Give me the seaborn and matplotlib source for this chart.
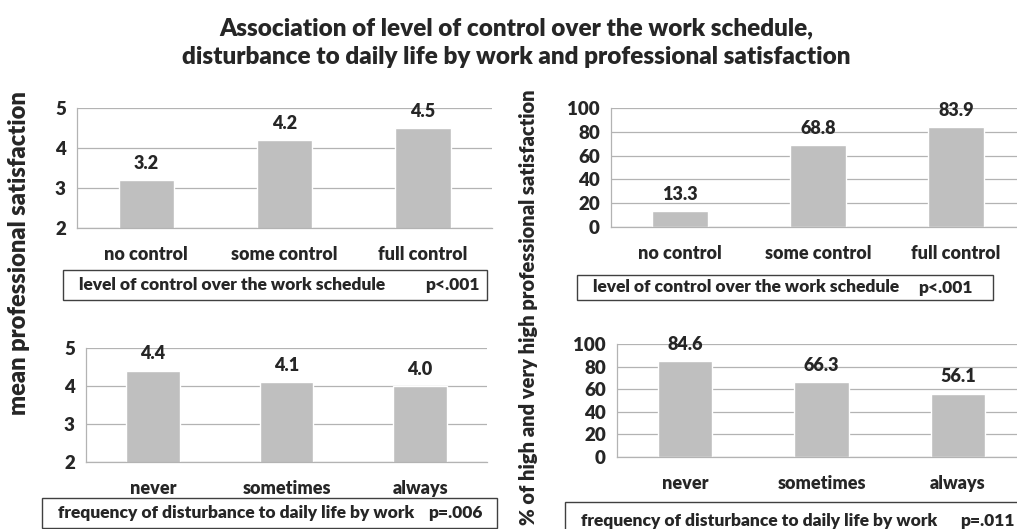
import pandas as pd
import seaborn as sns
import matplotlib.pyplot as plt
from matplotlib.patches import Rectangle

# data
control_cats = ["no control", "some control", "full control"]
control_mean = [3.2, 4.2, 4.5]
control_pct = [13.3, 68.8, 83.9]

disturb_cats = ["never", "sometimes", "always"]
disturb_mean = [4.4, 4.1, 4.0]
disturb_pct = [84.6, 66.3, 56.1]

box_control = "level of control over the work schedule"
box_disturb = "frequency of disturbance to daily life by work"
p_vals = ["p<.001", "p<.001", "p=.006", "p=.011"]

sns.set_style("white")
plt.rcParams["font.family"] = ["Lato", "DejaVu Sans"]
WT = "heavy"
plt.rcParams["font.weight"] = WT

W, H = 1017, 529
fig = plt.figure(figsize=(W / 100, H / 100), dpi=100)

bar_col = "#bfbfbf"
grid_col = "#b3b3b3"


def fx(px):
    return px / W


def fy(py):
    return 1 - py / H


def panel(rect, cats, vals, ylim, yticks):
    l, t, r, b = rect
    ax = fig.add_axes([fx(l), fy(b), fx(r - l), fy(t) - fy(b)])
    df = pd.DataFrame({"cat": cats, "val": vals})
    sns.barplot(data=df, x="cat", y="val", color=bar_col, width=0.4,
                saturation=1, ax=ax)
    ax.set_ylim(*ylim)
    ax.set_xlim(-0.5, 2.5)
    ax.set_yticks(yticks, [str(v) for v in yticks], fontweight=WT)
    ax.set_xticks(range(len(cats)), cats, fontweight=WT)
    ax.yaxis.grid(True, color=grid_col, lw=0.9)
    ax.set_axisbelow(True)
    for s in ["top", "right"]:
        ax.spines[s].set_visible(False)
    for s in ["left", "bottom"]:
        ax.spines[s].set_color(grid_col)
        ax.spines[s].set_linewidth(0.9)
    ax.set_xlabel("")
    ax.set_ylabel("")
    ax.tick_params(axis="y", length=5, color=grid_col, labelsize=13.5, pad=3)
    ax.tick_params(axis="x", which="major", length=0, labelsize=13, pad=13)
    ax.set_xticks([-0.5, 0.5, 1.5, 2.5], minor=True)
    ax.tick_params(axis="x", which="minor", length=6, color=grid_col)
    ax.bar_label(ax.containers[0], fmt="%.1f", padding=6,
                 fontsize=13, fontweight=WT)
    return ax


panel((77, 108, 492, 228), control_cats, control_mean, (2, 5), [2, 3, 4, 5])
panel((611, 108, 1025, 227), control_cats, control_pct, (0, 100),
      [0, 20, 40, 60, 80, 100])
panel((86, 348, 487, 462), disturb_cats, disturb_mean, (2, 5), [2, 3, 4, 5])
panel((617, 344, 1026, 457), disturb_cats, disturb_pct, (0, 100),
      [0, 20, 40, 60, 80, 100])


def box(l, t, r, b, text, p, px):
    fig.add_artist(Rectangle((fx(l), fy(b)), fx(r - l), fy(t) - fy(b),
                             transform=fig.transFigure, fill=False,
                             edgecolor="#404040", lw=1))
    yc = fy((t + b) / 2)
    fig.text(fx(l + 16), yc, text, ha="left", va="center",
             fontsize=12.5, fontweight=WT)
    fig.text(fx(px), yc, p, ha="left", va="center",
             fontsize=12.5, fontweight=WT)


box(63, 270, 487, 300, box_control, p_vals[0], 425)
box(577, 275, 993, 300, box_control, p_vals[1], 918)
box(42, 498, 497, 528, box_disturb, p_vals[2], 428)
box(565, 502, 1030, 540, box_disturb, p_vals[3], 960)

fig.text(fx(516), fy(28),
         "Association of level of control over the work schedule,",
         ha="center", va="center", fontsize=17.5, fontweight=WT)
fig.text(fx(516), fy(57),
         "disturbance to daily life by work and professional satisfaction",
         ha="center", va="center", fontsize=17.5, fontweight=WT)

fig.text(fx(19), fy(253), "mean professional satisfaction", rotation=90,
         ha="center", va="center", fontsize=17, fontweight=WT)
fig.text(fx(528), fy(307), "% of high and very high professional satisfaction",
         rotation=90, ha="center", va="center", fontsize=14.5, fontweight=WT)

fig.savefig("out.png", dpi=100)
